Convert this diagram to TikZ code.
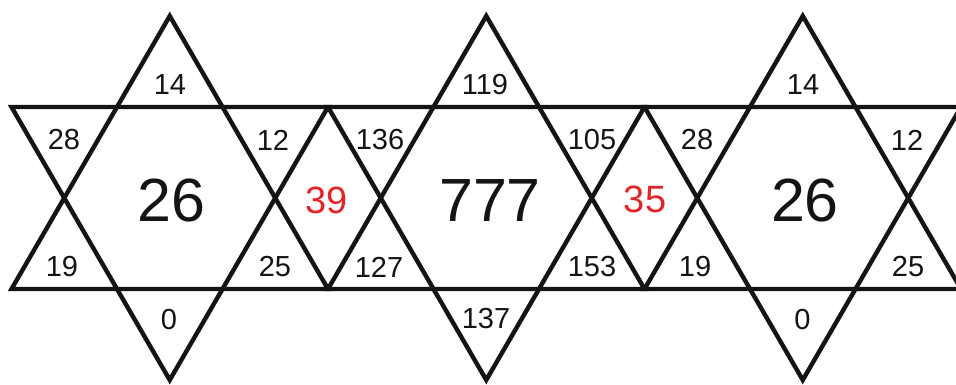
\documentclass[tikz,border=0pt]{standalone}
\usepackage{fontspec}
\setmainfont{Liberation Sans}
\definecolor{numred}{RGB}{226,38,40}
\definecolor{ink}{RGB}{20,20,20}
\begin{document}
\begin{tikzpicture}[x=1pt,y=-1pt,
  edge/.style={line width=4.4pt, line join=miter, draw=ink},
  small/.style={font=\fontsize{29}{29}\selectfont, inner sep=0pt, text=ink},
  big/.style={font=\fontsize{61}{61}\selectfont, inner sep=0pt, text=ink},
  mid/.style={font=\fontsize{38}{38}\selectfont, inner sep=0pt, text=numred}]
\useasboundingbox (0,0) rectangle (956,385);
\fill[white] (0,0) rectangle (956,385);
\begin{scope}
\clip (0,0) rectangle (956,385);
\foreach \c in {169.75, 486.25, 802.75} {
  \draw[edge] (\c,16) -- (\c+158.25,289) -- (\c-158.25,289) -- cycle;
  \draw[edge] (\c,380) -- (\c+158.25,107) -- (\c-158.25,107) -- cycle;
}
\end{scope}
% star 1
\node[small] (a1) at (170,85) {14};
\node[small] (a2) at (64,140) {28};
\node[small] (a3) at (273,140) {12};
\node[small] (a4) at (62,267) {19};
\node[small] (a5) at (275,267) {25};
\node[small] (a6) at (169,320) {0};
\node[big] (a0) at (171.5,201) {26};
\node[mid] (d1) at (327,200) {39};
% star 2
\node[small] (b1) at (485,85) {119};
\node[small] (b2) at (380,140) {136};
\node[small] (b3) at (592,140) {105};
\node[small] (b4) at (379,267) {127};
\node[small] (b5) at (592,267) {153};
\node[small] (b6) at (486,319) {137};
\node[big] (b0) at (490,201) {777};
\node[mid] (d2) at (645,199) {35};
% star 3
\node[small] (c1) at (803,85) {14};
\node[small] (c2) at (697,140) {28};
\node[small] (c3) at (907,140) {12};
\node[small] (c4) at (695,267) {19};
\node[small] (c5) at (908,267) {25};
\node[small] (c6) at (802.5,320) {0};
\node[big] (c0) at (805,201) {26};
\end{tikzpicture}
\end{document}
